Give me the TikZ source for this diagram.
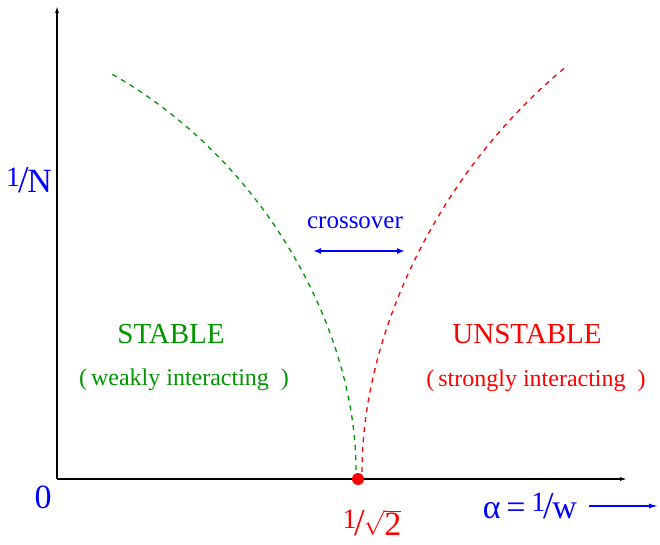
\documentclass[tikz,border=0pt]{standalone}
\usepackage{fontspec}
\setmainfont{Liberation Serif}
\usetikzlibrary{arrows.meta,positioning}

\definecolor{stabgreen}{RGB}{0,150,0}
\newcommand{\slfrac}[2]{\raisebox{0.42ex}{\fontsize{28}{28}\selectfont #1}\kern-0.06em{\fontsize{38}{38}\selectfont/}\kern-0.04em#2}

\begin{document}
\begin{tikzpicture}[x=1pt,y=-1pt,
  axis/.style={line width=1.3pt,-{Latex[length=7pt,width=4pt]}},
  boundary/.style={line width=1.3pt,dash pattern=on 5pt off 5pt},
  big/.style={font=\fontsize{34}{34}\selectfont,anchor=base,inner sep=0pt},
  phase/.style={font=\fontsize{29}{29}\selectfont,anchor=base,inner sep=0pt},
  note/.style={font=\fontsize{24}{24}\selectfont,anchor=base,inner sep=0pt}
]
\useasboundingbox (0,0) rectangle (660,545);

% axes
\coordinate (O) at (57,479);
\coordinate (ytop) at (57,6);
\coordinate (xend) at (627,479);
\draw[axis] (O) -- (ytop);
\draw[axis] (O) -- (xend);

% phase boundaries
\coordinate (gtop) at (110,73);
\coordinate (gbot) at (356,470);
\coordinate (rbot) at (362,472);
\coordinate (rtop) at (567,66);
\draw[boundary,stabgreen] (gbot) .. controls +(0,-140) and (265,160) .. (gtop);
\draw[boundary,red] (rbot) .. controls +(0,-140) and (440,170) .. (rtop);
\node[circle,fill=red,inner sep=0pt,minimum size=12pt] (crit) at (358,479) {};

% crossover
\coordinate (cl) at (313,251);
\coordinate (cr) at (405,251);
\node[note,blue,font=\fontsize{25}{25}\selectfont] (cross) at (355,228) {crossover};
\draw[blue,line width=1.8pt,{Latex[length=8pt,width=6pt]}-{Latex[length=8pt,width=6pt]}] (cl) -- (cr);

% axis labels
\node[big,blue] (ylab) at (29,193) {\slfrac{1}{N}};
\node[big,blue] (zero) at (43,508) {0};
\node[big,red] (critlab) at (372,535) {\slfrac{1}{$\sqrt{\mbox{2}}$}};
\node[big,blue] (xlab) at (530,518) {α\,=\,\slfrac{1}{w}};
\coordinate (xa1) at (589,506);
\coordinate (xa2) at (658,506);
\draw[blue,line width=1.3pt,-{Latex[length=9pt,width=5pt]}] (xa1) -- (xa2);

% regions
\node[phase,stabgreen] (stab) at (171,343) {STABLE};
\node[note,stabgreen] (weak) at (184,385) {(\,weakly interacting \ )};
\node[phase,red] (unstab) at (527,343) {UNSTABLE};
\node[note,red] (strong) at (536,386) {(\,strongly interacting \ )};
\end{tikzpicture}
\end{document}
